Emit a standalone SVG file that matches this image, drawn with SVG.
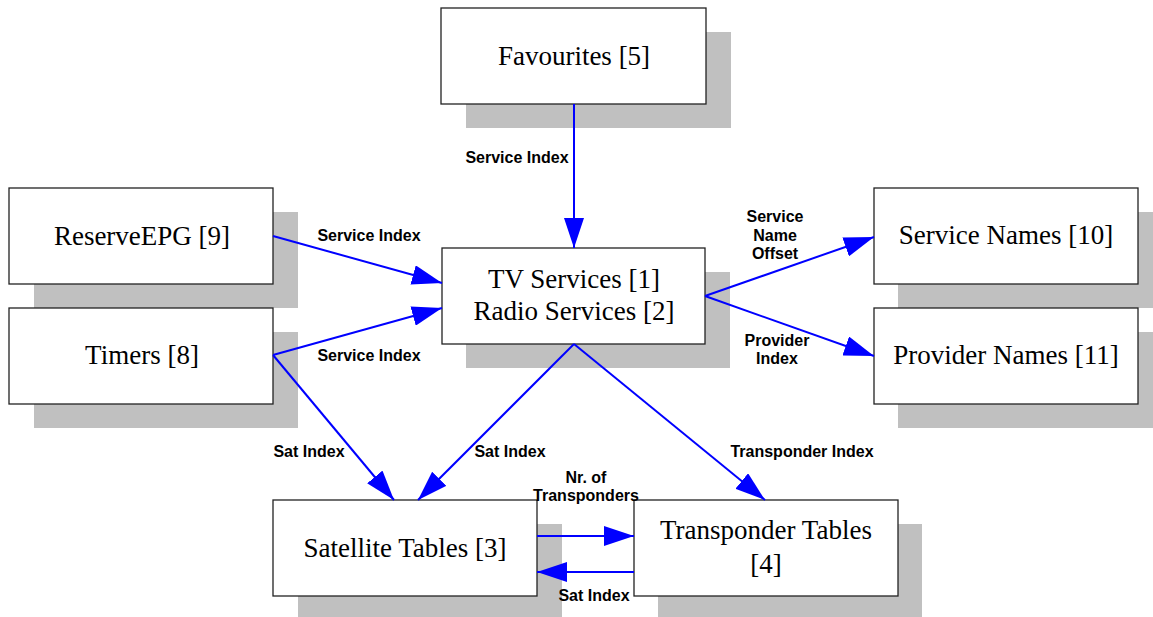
<svg xmlns="http://www.w3.org/2000/svg" width="1153" height="617" viewBox="0 0 1153 617">
<style>
.shadow{fill:#c0c0c0}
.box{fill:#fff;stroke:#222;stroke-width:1.3}
.node{font-family:"Liberation Serif","Times New Roman",serif;font-size:27px;fill:#000;text-anchor:middle}
.lbl{font-family:"Liberation Sans",Arial,sans-serif;font-size:16px;font-weight:bold;fill:#000;text-anchor:middle}
.edge{stroke:#0000ff;stroke-width:2;fill:none;marker-end:url(#ah)}
</style>
<defs>
<marker id="ah" markerUnits="userSpaceOnUse" markerWidth="30" markerHeight="20" refX="30" refY="10" orient="auto" viewBox="0 0 30 20">
<path d="M0,0 L30,10 L0,20 Z" fill="#0000ff"/>
</marker>
</defs>
<rect width="1153" height="617" fill="#fff"/>

<g id="favourites">
<rect class="shadow" x="466" y="32" width="265" height="96"/>
<rect class="box" x="441" y="8" width="265" height="96"/>
<text class="node" x="574" y="65">Favourites [5]</text>
</g>
<g id="reserveepg">
<rect class="shadow" x="34" y="212" width="264" height="96"/>
<rect class="box" x="9" y="188" width="264" height="96"/>
<text class="node" x="142" y="245">ReserveEPG [9]</text>
</g>
<g id="timers">
<rect class="shadow" x="34" y="332" width="264" height="96"/>
<rect class="box" x="9" y="308" width="264" height="96"/>
<text class="node" x="142" y="364">Timers [8]</text>
</g>
<g id="services">
<rect class="shadow" x="466" y="272" width="264" height="96"/>
<rect class="box" x="442" y="248" width="263" height="96"/>
<text class="node" x="574" y="288">TV Services [1]</text>
<text class="node" x="574" y="320">Radio Services [2]</text>
</g>
<g id="servicenames">
<rect class="shadow" x="898" y="212" width="264" height="96"/>
<rect class="box" x="874" y="188" width="264" height="96"/>
<text class="node" x="1006" y="244">Service Names [10]</text>
</g>
<g id="providernames">
<rect class="shadow" x="898" y="332" width="264" height="96"/>
<rect class="box" x="874" y="308" width="264" height="96"/>
<text class="node" x="1006" y="364">Provider Names [11]</text>
</g>
<g id="satellite">
<rect class="shadow" x="298" y="524" width="264" height="96"/>
<rect class="box" x="273" y="500" width="264" height="96"/>
<text class="node" x="405" y="557">Satellite Tables [3]</text>
</g>
<g id="transponder">
<rect class="shadow" x="658" y="524" width="264" height="96"/>
<rect class="box" x="634" y="500" width="264" height="96"/>
<text class="node" x="766" y="539">Transponder Tables</text>
<text class="node" x="766" y="573">[4]</text>
</g>

<g id="connectors">
<line class="edge" x1="574" y1="104" x2="574" y2="248"/>
<line class="edge" x1="273" y1="236" x2="442" y2="283"/>
<line class="edge" x1="273" y1="355" x2="442" y2="308"/>
<line class="edge" x1="273" y1="355" x2="394" y2="500"/>
<line class="edge" x1="574" y1="344" x2="418" y2="500"/>
<line class="edge" x1="574" y1="344" x2="765" y2="500"/>
<line class="edge" x1="705" y1="296" x2="874" y2="237"/>
<line class="edge" x1="705" y1="296" x2="874" y2="356"/>
<line class="edge" x1="537" y1="536" x2="634" y2="536"/>
<line class="edge" x1="634" y1="572" x2="537" y2="572"/>

<text class="lbl" x="517" y="163">Service Index</text>
<text class="lbl" x="369" y="241">Service Index</text>
<text class="lbl" x="369" y="361">Service Index</text>
<text class="lbl" x="775" y="222">Service</text>
<text class="lbl" x="775" y="241">Name</text>
<text class="lbl" x="775" y="259">Offset</text>
<text class="lbl" x="777" y="346">Provider</text>
<text class="lbl" x="777" y="364">Index</text>
<text class="lbl" x="309" y="457">Sat Index</text>
<text class="lbl" x="510" y="457">Sat Index</text>
<text class="lbl" x="802" y="457">Transponder Index</text>
<text class="lbl" x="586" y="483">Nr. of</text>
<text class="lbl" x="586" y="501">Transponders</text>
<text class="lbl" x="594" y="601">Sat Index</text>
</g>
</svg>
